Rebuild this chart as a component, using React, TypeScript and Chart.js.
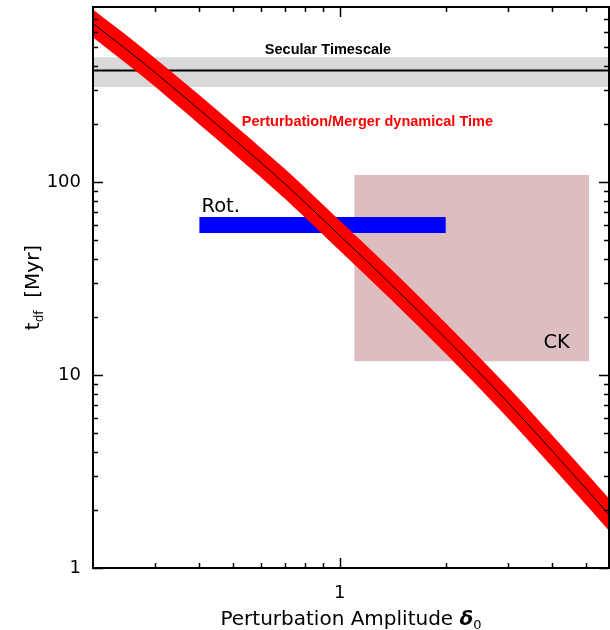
import { useEffect, useRef } from "react";
import { Chart, registerables } from "chart.js";
Chart.register(...registerables);

// ---- data ----
const xRange = [0.2, 5.8];
const yRange = [1, 810];
const xTickLabels = [1];
const yTickLabels = [1, 10, 100];
const xMinorTicks = [0.3, 0.4, 0.5, 0.6, 0.7, 0.8, 0.9, 2, 3, 4, 5];
const yMinorTicks = [2, 3, 4, 5, 6, 7, 8, 9, 20, 30, 40, 50, 60, 70, 80, 90, 200, 300, 400, 500, 600, 700];

// Perturbation / merger dynamical time (centre and band edges)
const dynX = [0.2, 0.275, 0.4, 0.5, 0.7, 1.0, 1.4, 2.0, 3.0, 4.0, 5.0, 5.8];
const dynCenter = [665, 422, 238, 168, 98, 53, 29.5, 15.5, 7.2, 4.05, 2.57, 1.89];
const dynUpper = [787, 500, 283, 200, 117, 63.4, 35.4, 18.6, 8.68, 4.89, 3.11, 2.29];
const dynLower = [562, 356, 200, 141, 82.1, 44.3, 24.6, 12.9, 5.98, 3.35, 2.12, 1.56];

// Secular timescale
const secularX = [0.2, 5.8];
const secularValue = 380;
const secularLow = 312;
const secularHigh = 445;

// Rot. range
const rotX = [0.4, 2.0];
const rotLow = 54.6;
const rotHigh = 66;

// CK box
const ckX = [1.1, 5.1];
const ckLow = 11.8;
const ckHigh = 109;

const flat = (xs: number[], v: number) => xs.map((x) => ({ x, y: v }));
const pts = (xs: number[], ys: number[]) => xs.map((x, i) => ({ x, y: ys[i] }));
const isIn = (v: number, arr: number[]) => arr.some((a) => Math.abs(a - v) < 1e-9 * Math.max(1, a));

const SANS = '"DejaVu Sans", "Noto Sans", sans-serif';
const ARIAL = '"Liberation Sans", Arial, sans-serif';

const overlay = {
  id: "overlay",
  afterDatasetsDraw(chart: any) {
    const { ctx, chartArea: a, scales } = chart;
    const x = scales.x;
    const y = scales.y;
    ctx.save();
    ctx.strokeStyle = "#000";
    ctx.lineWidth = 1.5;
    ctx.lineCap = "butt";
    const xt = (v: number, len: number) => {
      const px = Math.round(x.getPixelForValue(v)) + 0.5;
      ctx.beginPath();
      ctx.moveTo(px, a.bottom);
      ctx.lineTo(px, a.bottom - len);
      ctx.moveTo(px, a.top);
      ctx.lineTo(px, a.top + len);
      ctx.stroke();
    };
    const yt = (v: number, len: number) => {
      const py = Math.round(y.getPixelForValue(v)) + 0.5;
      ctx.beginPath();
      ctx.moveTo(a.left, py);
      ctx.lineTo(a.left + len, py);
      ctx.moveTo(a.right, py);
      ctx.lineTo(a.right - len, py);
      ctx.stroke();
    };
    xMinorTicks.forEach((v) => xt(v, 5));
    xTickLabels.forEach((v) => xt(v, 10));
    yMinorTicks.forEach((v) => yt(v, 5));
    yTickLabels.forEach((v) => yt(v, 10));

    ctx.lineWidth = 2;
    ctx.strokeRect(a.left, a.top, a.right - a.left, a.bottom - a.top);

    // annotations
    ctx.textBaseline = "alphabetic";
    ctx.fillStyle = "#000";
    ctx.font = `bold 14.5px ${ARIAL}`;
    ctx.textAlign = "center";
    ctx.fillText("Secular Timescale", x.getPixelForValue(0.927), y.getPixelForValue(460));
    ctx.fillStyle = "#ff0000";
    ctx.fillText("Perturbation/Merger dynamical Time", x.getPixelForValue(1.199), y.getPixelForValue(195.5));
    ctx.fillStyle = "#000";
    ctx.font = `19.5px ${SANS}`;
    ctx.textAlign = "left";
    ctx.fillText("Rot.", x.getPixelForValue(0.406), y.getPixelForValue(70));
    ctx.fillText("CK", x.getPixelForValue(3.78), y.getPixelForValue(13.8));
    ctx.restore();
  },
  afterDraw(chart: any) {
    const { ctx, chartArea: a } = chart;
    ctx.save();
    ctx.fillStyle = "#000";
    ctx.textBaseline = "alphabetic";
    // x title
    const main = "Perturbation Amplitude ";
    ctx.font = `20px ${SANS}`;
    const wMain = ctx.measureText(main).width;
    ctx.font = `italic bold 20px ${SANS}`;
    const wDelta = ctx.measureText("δ").width;
    ctx.font = `13px ${SANS}`;
    const wSub = ctx.measureText("0").width;
    const total = wMain + wDelta + wSub;
    const cx = (a.left + a.right) / 2;
    let sx = cx - total / 2;
    const by = 625;
    ctx.textAlign = "left";
    ctx.font = `20px ${SANS}`;
    ctx.fillText(main, sx, by);
    sx += wMain;
    ctx.font = `italic bold 20px ${SANS}`;
    ctx.fillText("δ", sx, by);
    sx += wDelta;
    ctx.font = `13px ${SANS}`;
    ctx.fillText("0", sx, by + 4);

    // y title
    ctx.translate(39, (a.top + a.bottom) / 2);
    ctx.rotate(-Math.PI / 2);
    ctx.font = `20px ${SANS}`;
    const wt = ctx.measureText("t").width;
    const rest = "  [Myr]";
    const wr = ctx.measureText(rest).width;
    ctx.font = `12px ${SANS}`;
    const wdf = ctx.measureText("df").width;
    const tot = wt + wdf + wr;
    let px = -tot / 2;
    ctx.font = `20px ${SANS}`;
    ctx.fillText("t", px, 0);
    px += wt;
    ctx.font = `12px ${SANS}`;
    ctx.fillText("df", px, 4);
    px += wdf;
    ctx.font = `20px ${SANS}`;
    ctx.fillText(rest, px, 0);
    ctx.restore();
  },
};

export default function App() {
  const ref = useRef<HTMLCanvasElement | null>(null);
  useEffect(() => {
    document.body.style.margin = "0";
    if (!ref.current) return;
    const base = { pointRadius: 0, pointHoverRadius: 0, borderWidth: 0, tension: 0 };
    const chart = new Chart(ref.current, {
      type: "line",
      data: {
        datasets: [
          { ...base, data: flat(secularX, secularLow), order: 10, fill: false, borderColor: "rgba(0,0,0,0)" },
          { ...base, data: flat(secularX, secularHigh), order: 10, fill: "-1", backgroundColor: "#d9d9d9", borderColor: "rgba(0,0,0,0)" },
          { ...base, data: flat(secularX, secularValue), order: 9, fill: false, borderColor: "#000", borderWidth: 2 },
          { ...base, data: flat(ckX, ckLow), order: 8, fill: false, borderColor: "rgba(0,0,0,0)" },
          { ...base, data: flat(ckX, ckHigh), order: 8, fill: "-1", backgroundColor: "#dcbec0", borderColor: "rgba(0,0,0,0)" },
          { ...base, data: flat(rotX, rotLow), order: 7, fill: false, borderColor: "rgba(0,0,0,0)" },
          { ...base, data: flat(rotX, rotHigh), order: 7, fill: "-1", backgroundColor: "#0000ff", borderColor: "rgba(0,0,0,0)" },
          { ...base, data: pts(dynX, dynLower), order: 6, fill: false, borderColor: "rgba(0,0,0,0)", cubicInterpolationMode: "monotone" },
          { ...base, data: pts(dynX, dynUpper), order: 6, fill: "-1", backgroundColor: "#ff0000", borderColor: "rgba(0,0,0,0)", cubicInterpolationMode: "monotone" },
          { ...base, data: pts(dynX, dynCenter), order: 5, fill: false, borderColor: "#000", borderWidth: 1, cubicInterpolationMode: "monotone" },
        ] as any,
      },
      options: {
        responsive: false,
        animation: false,
        devicePixelRatio: 1,
        layout: { padding: { top: 7, right: 1, left: 0, bottom: 0 } },
        plugins: { legend: { display: false }, tooltip: { enabled: false } },
        events: [],
        scales: {
          x: {
            type: "logarithmic",
            min: xRange[0],
            max: xRange[1],
            grid: { display: false, drawTicks: false },
            border: { display: false },
            ticks: {
              autoSkip: false,
              maxRotation: 0,
              padding: 15,
              color: "#000",
              font: { family: "DejaVu Sans", size: 18 },
              callback: (v: any) => (isIn(Number(v), xTickLabels) ? String(Number(v)) : null),
            },
            afterFit: (s: any) => {
              s.height = 62;
              s.paddingLeft = 0;
              s.paddingRight = 0;
              s.paddingTop = 0;
              s.paddingBottom = 0;
            },
          },
          y: {
            type: "logarithmic",
            min: yRange[0],
            max: yRange[1],
            grid: { display: false, drawTicks: false },
            border: { display: false },
            ticks: {
              autoSkip: false,
              padding: 12,
              color: "#000",
              font: { family: "DejaVu Sans", size: 18 },
              callback: (v: any) => (isIn(Number(v), yTickLabels) ? String(Number(v)) : null),
            },
            afterFit: (s: any) => {
              s.width = 93;
              s.paddingLeft = 0;
              s.paddingRight = 0;
              s.paddingTop = 0;
              s.paddingBottom = 0;
            },
          },
        } as any,
      },
      plugins: [overlay],
    });
    return () => chart.destroy();
  }, []);
  return (
    <div style={{ width: 610, height: 630 }}>
      <canvas ref={ref} width={610} height={630} style={{ display: "block" }} />
    </div>
  );
}
